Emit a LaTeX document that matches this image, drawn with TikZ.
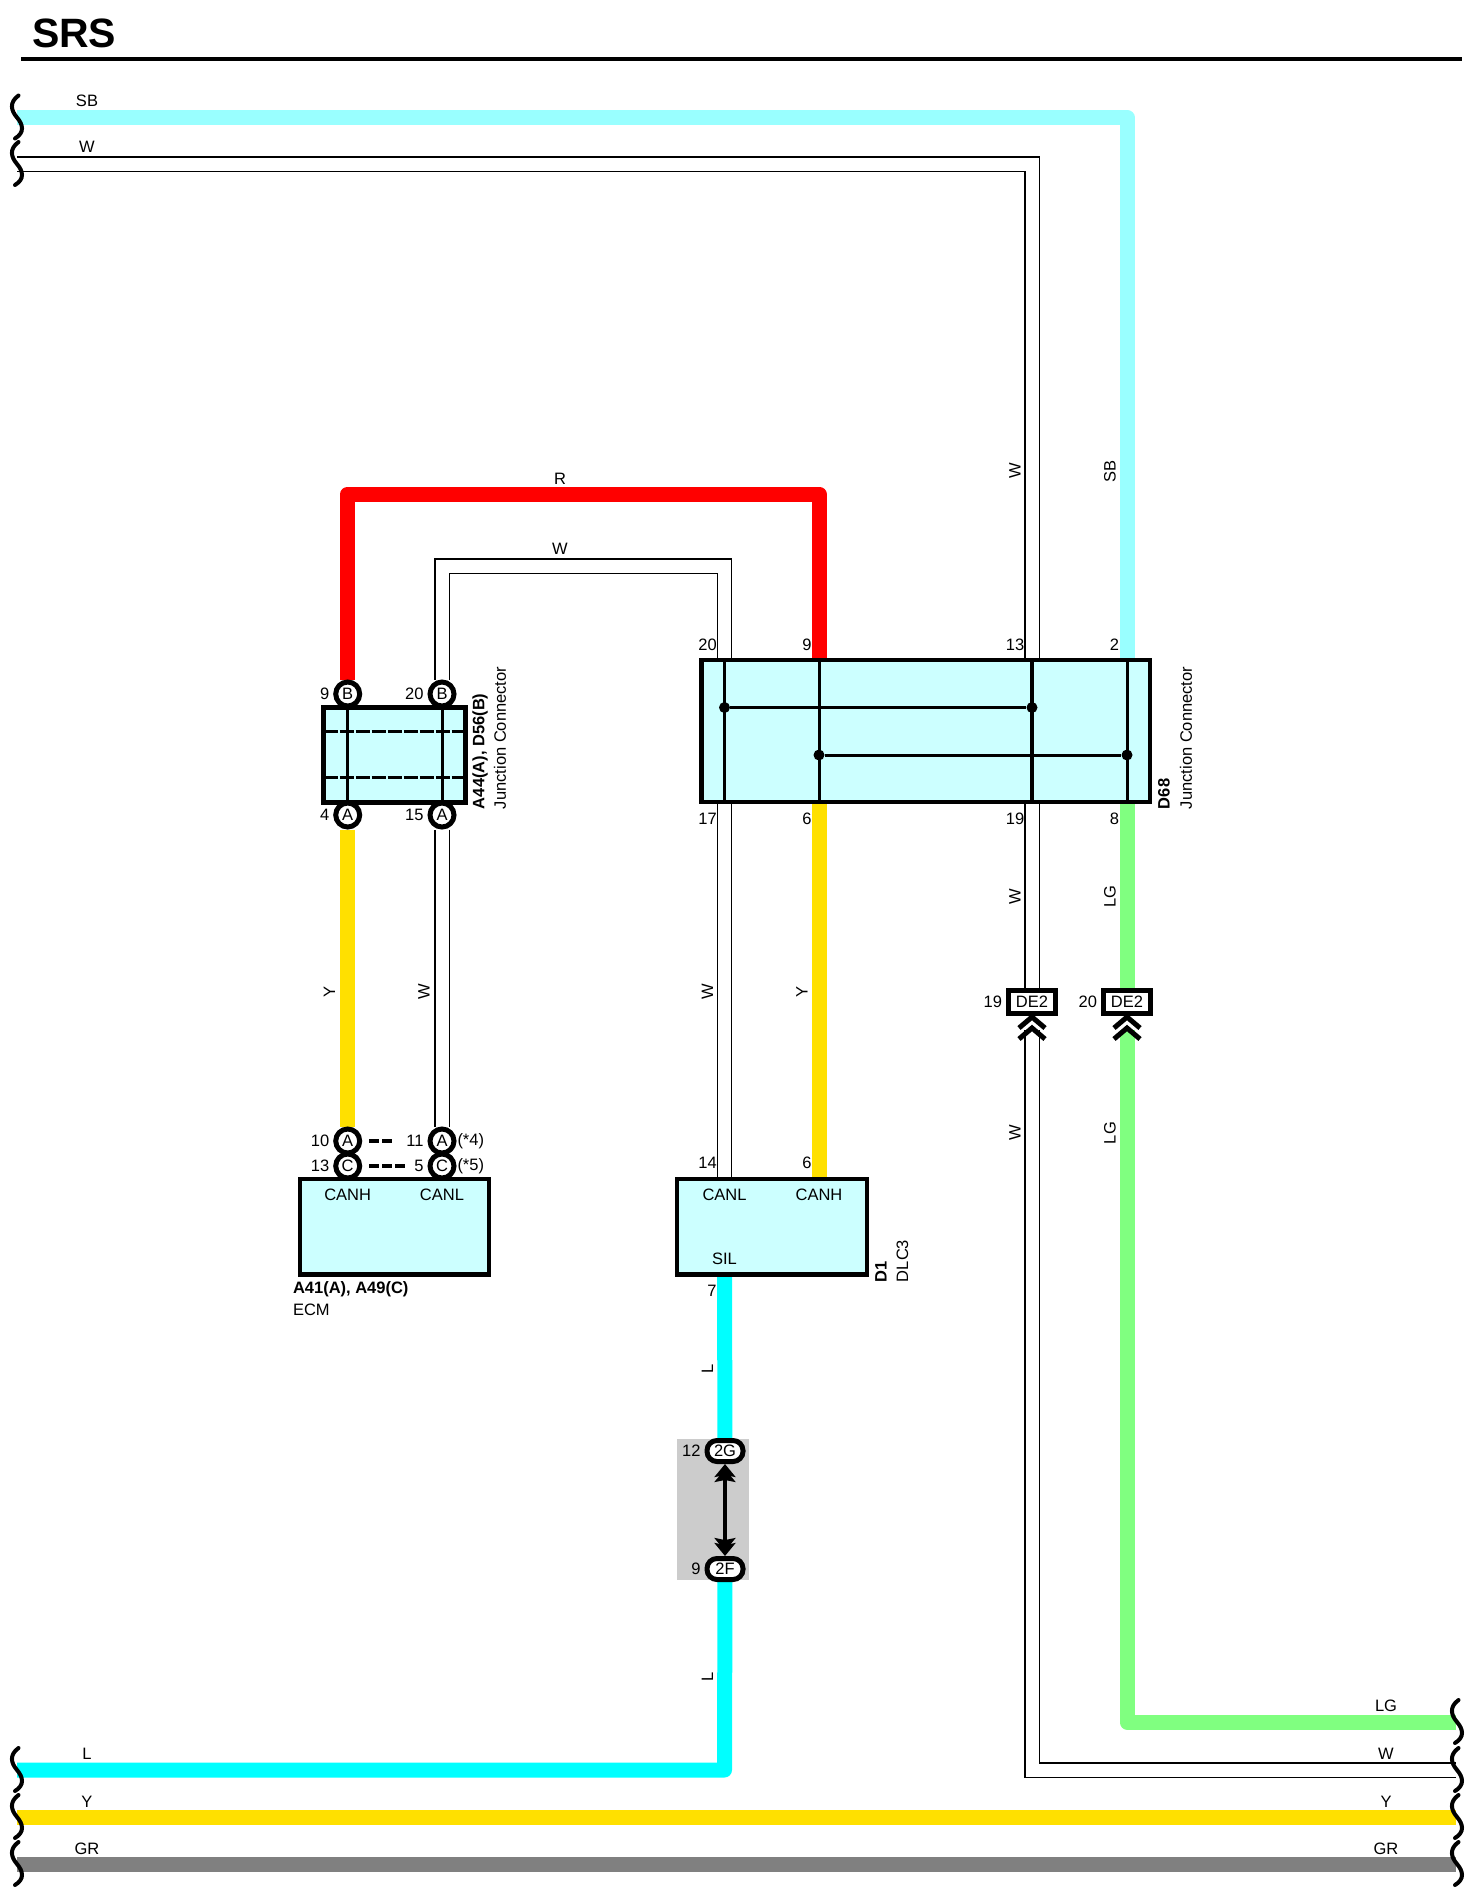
\documentclass[tikz,border=0pt]{standalone}
\usepackage{fontspec}
\setmainfont{Liberation Sans}
\usetikzlibrary{positioning,arrows.meta,backgrounds}

\definecolor{wiresb}{HTML}{99FFFF}
\definecolor{wirel}{HTML}{00FFFF}
\definecolor{wirey}{HTML}{FFE000}
\definecolor{wirelg}{HTML}{80FF80}
\definecolor{wiregr}{HTML}{808080}
\definecolor{boxfill}{HTML}{CCFFFF}
\definecolor{greybox}{HTML}{CCCCCC}

\tikzset{
    lab/.style={inner sep=0pt,outer sep=0pt,font=\fontsize{16.5}{18}\selectfont},
    rlab/.style={lab,rotate=90},
    boldlab/.style={lab,font=\fontsize{16.5}{18}\selectfont\bfseries},
    wire/.style={line width=15pt,line join=round},
    wirew/.style={draw=black,line width=1.1pt,double=white,double distance=13pt},
    cbox/.style={rectangle,draw,line width=4.8pt,fill=boxfill,inner sep=0pt},
    pin/.style={circle,draw,line width=5pt,fill=white,inner sep=0pt,minimum size=24pt,font=\fontsize{16.5}{18}\selectfont},
    oval/.style={rectangle,rounded corners=10pt,draw,line width=5pt,fill=white,inner sep=0pt,minimum width=36pt,minimum height=21pt,font=\fontsize{16.5}{18}\selectfont},
    plug/.style={rectangle,draw,line width=5pt,fill=white,inner sep=0pt,minimum width=47pt,minimum height=23pt,font=\fontsize{16.5}{18}\selectfont},
    tie/.style={line width=3pt},
    dot/.style={circle,fill=black,inner sep=0pt,minimum size=11pt},
    squiggle/.pic={\draw[line width=4pt,line cap=round] (1.5,-22) .. controls (-8,-15) and (-6,-7) .. (0,0) .. controls (6,7) and (8,15) .. (-2,21);},
    chevrons/.pic={\draw[line width=5pt] (-13,11) -- (0,0) -- (13,11) (-13,22) -- (0,11) -- (13,22);},
    heads/.tip={Stealth[length=13pt,width=21pt,inset=2pt,sep=-8pt]Stealth[length=13pt,width=21pt,inset=2pt]}
}

\begin{document}
\begin{tikzpicture}[x=1pt,y=-1pt]
        \useasboundingbox (0,0) rectangle (1473,1899);

        \node[lab,font=\fontsize{41}{44}\selectfont\bfseries,anchor=base west] (title) at (32,47) {SRS};
        \coordinate (ruleL) at (21,59);
        \coordinate (ruleR) at (1462,59);
        \draw[line width=4.5pt] (ruleL) -- (ruleR);

        \node[rectangle,fill=greybox,inner sep=0pt,minimum width=72pt,minimum height=141pt] (grey) at (713,1509.5) {};

        \node[cbox,minimum width=142pt,minimum height=94.5pt] (jc) at (394.7,755) {};
        \node[pin] (pinB9) at (347.7,694) {B};
        \node[pin] (pinB20) at (442,694) {B};
        \node[pin] (pinA4) at (347.7,815) {A};
        \node[pin] (pinA15) at (442,815) {A};
        \node[lab,left=4pt of pinB9] (n9) {9};
        \node[lab,left=4pt of pinB20] (n20) {20};
        \node[lab,left=4pt of pinA4] (n4) {4};
        \node[lab,left=4pt of pinA15] (n15) {15};

        \node[cbox,minimum width=448.5pt,minimum height=142pt] (jd) at (925.75,731) {};
        \coordinate (t20) at (724.5,660);
        \coordinate (t9) at (819,660);
        \coordinate (t13) at (1032,660);
        \coordinate (t2) at (1127,660);
        \coordinate (b17) at (724.5,802);
        \coordinate (b6) at (819,802);
        \coordinate (b19) at (1032,802);
        \coordinate (b8) at (1127,802);

        \node[lab] (m20) at (707.5,644.5) {20};
        \node[lab] (m9) at (807,644.5) {9};
        \node[lab] (m13) at (1015,644.5) {13};
        \node[lab] (m2) at (1114.5,644.5) {2};
        \node[lab] (m17) at (707.5,819) {17};
        \node[lab] (m6) at (807,819) {6};
        \node[lab] (m19) at (1015,819) {19};
        \node[lab] (m8) at (1114.5,819) {8};

        \node[cbox,minimum width=189pt,minimum height=95.5pt] (ecm) at (394.5,1226.75) {};
        \node[pin] (pinC13) at (347.7,1166) {C};
        \node[pin] (pinC5) at (442,1166) {C};
        \node[pin] (pinA10) at (347.7,1141) {A};
        \node[pin] (pinA11) at (442,1141) {A};
        \node[lab,left=4pt of pinA10] (n10) {10};
        \node[lab,left=4pt of pinC13] (n13) {13};
        \node[lab,left=4pt of pinA11] (n11) {11};
        \node[lab,left=4pt of pinC5] (n5) {5};
        \node[lab,right=1pt of pinA11] (s4) {(*4)};
        \node[lab,right=1pt of pinC5] (s5) {(*5)};
        \coordinate (dashA) at (369,1141);
        \coordinate (dashB) at (393,1141);
        \coordinate (dashC) at (369,1166);
        \coordinate (dashD) at (406,1166);
        \draw[line width=4pt,dash pattern=on 10pt off 3pt] (dashA) -- (dashB);
        \draw[line width=4pt,dash pattern=on 10pt off 3pt] (dashC) -- (dashD);

        \node[lab] (canhE) at (347.7,1194.5) {CANH};
        \node[lab] (canlE) at (442,1194.5) {CANL};
        \node[boldlab,anchor=west] (ecmA) at (293,1289) {A41(A), A49(C)};
        \node[lab,anchor=west] (ecmB) at (293,1310) {ECM};

        \node[cbox,minimum width=190pt,minimum height=95.5pt] (dlc) at (772,1226.75) {};
        \node[lab] (canlD) at (724.5,1194.5) {CANL};
        \node[lab] (canhD) at (819,1194.5) {CANH};
        \node[lab] (sil) at (724.5,1259) {SIL};
        \node[lab] (n14) at (707.5,1163) {14};
        \node[lab] (n6) at (807,1163) {6};
        \node[lab] (n7) at (712,1291) {7};
        \coordinate (d14) at (724.5,1179);
        \coordinate (d6) at (819,1179);
        \coordinate (d7) at (724.5,1274.5);

        \node[oval] (g2G) at (725,1451) {2G};
        \node[oval] (g2F) at (725,1569) {2F};
        \node[lab,left=4pt of g2G] (n12) {12};
        \node[lab,left=4pt of g2F] (n9b) {9};
        \draw[line width=4pt,heads-heads] (g2G) -- (g2F);

        \node[plug] (de19) at (1032,1002) {DE2};
        \node[plug] (de20) at (1127,1002) {DE2};
        \node[lab,left=4pt of de19] (n19) {19};
        \node[lab,left=4pt of de20] (n20b) {20};
        \pic (chA) at (1032,1017) {chevrons};
        \pic (chB) at (1127,1017) {chevrons};
        \coordinate (cw) at (1032,1030);
        \coordinate (clg) at (1127,1030);

        \coordinate (sbL) at (17,117.5);
        \coordinate (sbC) at (1127,117.5);
        \coordinate (wL) at (17,164);
        \coordinate (wC) at (1032,164);
        \coordinate (rC) at (819,494);
        \coordinate (wrC) at (724.5,566);
        \coordinate (lC) at (724.5,1770);
        \coordinate (lL) at (17,1770);
        \coordinate (wBC) at (1032,1770);
        \coordinate (wR) at (1456,1770);
        \coordinate (lgC) at (1127,1722);
        \coordinate (lgR) at (1456,1722);
        \coordinate (yL) at (17,1817);
        \coordinate (yR) at (1456,1817);
        \coordinate (grL) at (17,1864);
        \coordinate (grR) at (1456,1864);

        \begin{scope}[on background layer]
            \fill[white] (0,0) rectangle (1473,1899);
            \draw[wire,wiresb] (sbL) -- (sbC) -- (t2);
            \draw[wirew] (wL) -- (wC) -- (t13);
            \draw[wirew] (b19) -- (de19);
            \draw[wirew] (cw) -- (wBC) -- (wR);
            \draw[wire,red] (pinB9) |- (rC) -- (t9);
            \draw[wirew] (pinB20) |- (wrC) -- (t20);
            \draw[wire,wirey] (pinA4) -- (pinA10);
            \draw[wirew] (pinA15) -- (pinA11);
            \draw[wirew] (b17) -- (d14);
            \draw[wire,wirey] (b6) -- (d6);
            \draw[wire,wirelg] (b8) -- (de20);
            \draw[wire,wirelg] (clg) -- (lgC) -- (lgR);
            \draw[wire,wirel] (d7) -- (g2G);
            \draw[wire,wirel] (g2F) -- (lC) -- (lL);
            \draw[wire,wirey] (yL) -- (yR);
            \draw[wire,wiregr] (grL) -- (grR);
        \end{scope}

        \draw[tie] (pinB9) -- (pinA4);
        \draw[tie] (pinB20) -- (pinA15);
        \coordinate (jcAL) at (323.5,731);
        \coordinate (jcAR) at (466,731);
        \coordinate (jcBL) at (323.5,777);
        \coordinate (jcBR) at (466,777);
        \draw[tie,dash pattern=on 14pt off 2pt] (jcAL) -- (jcAR);
        \draw[tie,dash pattern=on 14pt off 2pt] (jcBL) -- (jcBR);

        \draw[tie,line width=3.5pt] (t20) -- (b17);
        \draw[tie] (t9) -- (b6);
        \draw[tie,line width=4pt] (t13) -- (b19);
        \draw[tie] (t2) -- (b8);
        \node[dot] (dotA) at (724.5,707.5) {};
        \node[dot] (dotB) at (1032,707.5) {};
        \node[dot] (dotC) at (819,755) {};
        \node[dot] (dotD) at (1127,755) {};
        \draw[tie] (dotA) -- (dotB);
        \draw[tie] (dotC) -- (dotD);

        \node[boldlab,rotate=90,anchor=west] (jcName) at (480,809) {A44(A), D56(B)};
        \node[rlab,anchor=west] (jcType) at (500,809) {Junction Connector};
        \node[boldlab,rotate=90,anchor=west] (jdName) at (1164,809) {D68};
        \node[rlab,anchor=west] (jdType) at (1186,809) {Junction Connector};
        \node[boldlab,rotate=90,anchor=west] (dlcName) at (881,1282) {D1};
        \node[rlab,anchor=west] (dlcType) at (902.5,1282) {DLC3};

        \node[lab] (lSB) at (87,100.5) {SB};
        \node[lab] (lW) at (87,147) {W};
        \node[lab] (lR) at (560,478.5) {R};
        \node[lab] (lWb) at (560,549) {W};
        \node[rlab] (lWc) at (1015,471) {W};
        \node[rlab] (lSBb) at (1110,471) {SB};
        \node[rlab] (lWd) at (1015,896.5) {W};
        \node[rlab] (lLG) at (1110,896.5) {LG};
        \node[rlab] (lY) at (329.5,992) {Y};
        \node[rlab] (lWe) at (424,992) {W};
        \node[rlab] (lWf) at (707.5,992) {W};
        \node[rlab] (lYb) at (802,992) {Y};
        \node[rlab] (lWg) at (1015,1133) {W};
        \node[rlab] (lLGb) at (1110,1133) {LG};
        \node[rlab] (lLa) at (707.5,1369) {L};
        \node[rlab] (lLb) at (707.5,1677) {L};
        \node[lab] (lLc) at (87,1754) {L};
        \node[lab] (lYc) at (87,1801.5) {Y};
        \node[lab] (lGR) at (87,1849) {GR};
        \node[lab] (lLGc) at (1386,1706) {LG};
        \node[lab] (lWh) at (1386,1754) {W};
        \node[lab] (lYd) at (1386,1801.5) {Y};
        \node[lab] (lGRb) at (1386,1849) {GR};

        \pic (sqA) at (17,117.5) {squiggle};
        \pic (sqB) at (17,164) {squiggle};
        \pic (sqC) at (17,1770) {squiggle};
        \pic (sqD) at (17,1817) {squiggle};
        \pic (sqE) at (17,1864) {squiggle};
        \pic (sqF) at (1457,1722) {squiggle};
        \pic (sqG) at (1457,1770) {squiggle};
        \pic (sqH) at (1457,1817) {squiggle};
        \pic (sqI) at (1457,1864) {squiggle};
    \end{tikzpicture}
\end{document}
